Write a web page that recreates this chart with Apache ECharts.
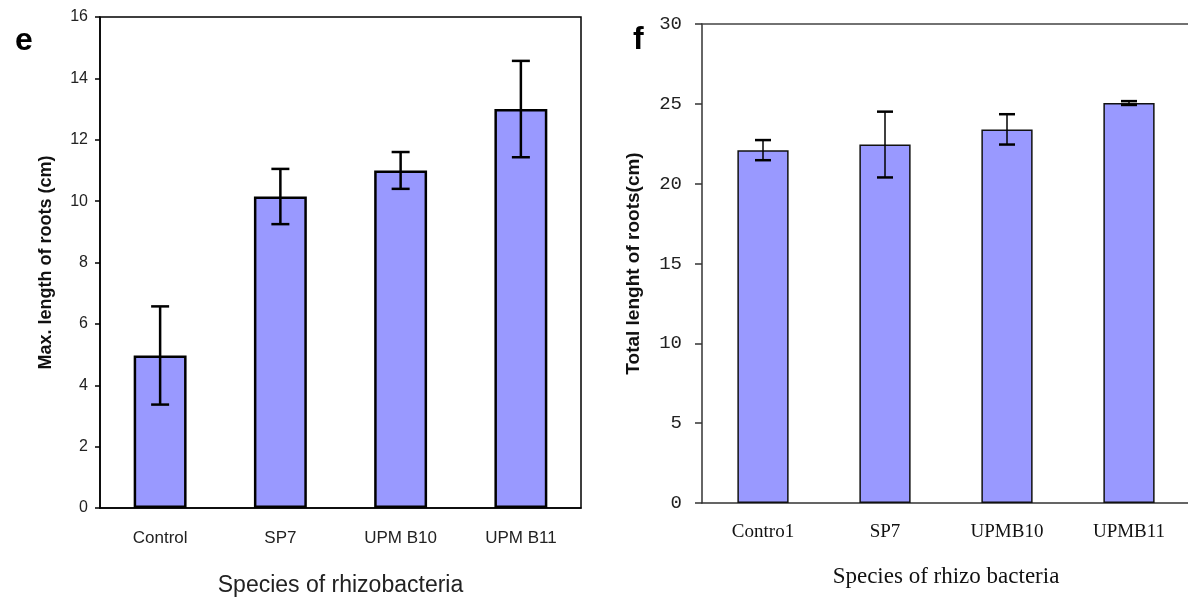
<!DOCTYPE html>
<html>
<head>
<meta charset="utf-8">
<script src="https://cdn.jsdelivr.net/npm/echarts@6/dist/echarts.min.js"></script>
<style>
  html, body { margin: 0; padding: 0; background: #fff; }
  #chart { width: 1188px; height: 599px; }
</style>
</head>
<body>
<div id="chart"></div>
<script>
// Panel e: maximum root length (cm), mean ± error
const categoriesE = ['Control', 'SP7', 'UPM B10', 'UPM B11'];
const maxLengthMean = [4.97, 10.15, 11.0, 13.0];
const maxLengthErr = [1.6, 0.9, 0.6, 1.57];

// Panel f: total root length (cm), mean ± error
const categoriesF = ['Contro1', 'SP7', 'UPMB10', 'UPMB11'];
const totalLengthMean = [22.1, 22.45, 23.4, 25.05];
const totalLengthErr = [0.63, 2.06, 0.95, 0.12];

const BAR_FILL = '#9999ff';

function errorRows(means, errs) {
  return means.map((m, i) => [i, m - errs[i], m + errs[i]]);
}

// Whisker with caps drawn through the axis scales
function errorRenderer(capHalf, stemWidth, capWidth) {
  return function (params, api) {
    const x = api.value(0);
    const hi = api.coord([x, api.value(2)]);
    const lo = api.coord([x, api.value(1)]);
    const style = { stroke: '#000' };
    return {
      type: 'group',
      children: [
        { type: 'line', shape: { x1: hi[0], y1: hi[1], x2: lo[0], y2: lo[1] },
          style: Object.assign({ lineWidth: stemWidth }, style) },
        { type: 'line', shape: { x1: hi[0] - capHalf, y1: hi[1], x2: hi[0] + capHalf, y2: hi[1] },
          style: Object.assign({ lineWidth: capWidth }, style) },
        { type: 'line', shape: { x1: lo[0] - capHalf, y1: lo[1], x2: lo[0] + capHalf, y2: lo[1] },
          style: Object.assign({ lineWidth: capWidth }, style) }
      ]
    };
  };
}

const chart = echarts.init(document.getElementById('chart'), null, { renderer: 'canvas' });

chart.setOption({
  animation: false,
  backgroundColor: '#ffffff',
  title: [
    { text: 'e', left: 10, top: 20,
      textStyle: { fontFamily: 'Liberation Sans', fontWeight: 'bold', fontSize: 32, color: '#000' } },
    { text: 'f', left: 628, top: 19,
      textStyle: { fontFamily: 'Liberation Sans', fontWeight: 'bold', fontSize: 32, color: '#000' } }
  ],
  grid: [
    { left: 100, top: 17, width: 481, height: 491, show: true, outerBoundsMode: 'none',
      borderColor: '#000', borderWidth: 1.5, backgroundColor: 'transparent' },
    { left: 702, top: 24, width: 488, height: 479, outerBoundsMode: 'none' }
  ],
  xAxis: [
    {
      type: 'category', gridIndex: 0, data: categoriesE,
      name: 'Species of rhizobacteria', nameLocation: 'middle', nameGap: 66,
      nameTextStyle: { fontFamily: 'Liberation Sans', fontSize: 23, color: '#222' },
      axisLine: { lineStyle: { color: '#000', width: 1.5 } },
      axisTick: { length: 6, lineStyle: { color: '#000', width: 1.5 } },
      axisLabel: { margin: 22, fontFamily: 'Liberation Sans', fontSize: 17, color: '#222' }
    },
    {
      type: 'category', gridIndex: 1, data: categoriesF,
      name: 'Species of rhizo bacteria', nameLocation: 'middle', nameGap: 62,
      nameTextStyle: { fontFamily: 'Liberation Serif', fontSize: 23, color: '#111' },
      axisLine: { lineStyle: { color: '#333', width: 1.5 } },
      axisTick: { length: 7, lineStyle: { color: '#333', width: 1.5 } },
      axisLabel: { margin: 20, fontFamily: 'Liberation Serif', fontSize: 19, color: '#111' }
    },
    {
      // top edge line of panel f
      type: 'category', gridIndex: 1, position: 'top', data: categoriesF,
      axisLine: { lineStyle: { color: '#444', width: 1.5 } },
      axisTick: { show: false }, axisLabel: { show: false }
    }
  ],
  yAxis: [
    {
      type: 'value', gridIndex: 0, min: 0, max: 16, interval: 2,
      name: 'Max. length of roots (cm)', nameLocation: 'middle', nameGap: 45,
      nameTextStyle: { fontFamily: 'Liberation Sans', fontWeight: 'bold', fontSize: 18, color: '#111' },
      axisLine: { show: true, lineStyle: { color: '#000', width: 1.5 } },
      axisTick: { show: true, length: 5, lineStyle: { color: '#000', width: 1.5 } },
      axisLabel: { margin: 12, fontFamily: 'Liberation Sans', fontSize: 16, color: '#222' },
      splitLine: { show: false }
    },
    {
      type: 'value', gridIndex: 1, min: 0, max: 30, interval: 5,
      name: 'Total lenght of roots(cm)', nameLocation: 'middle', nameGap: 59,
      nameTextStyle: { fontFamily: 'Liberation Sans', fontWeight: 'bold', fontSize: 19, color: '#111' },
      axisLine: { show: true, lineStyle: { color: '#333', width: 1.5 } },
      axisTick: { show: true, length: 7, lineStyle: { color: '#333', width: 1.5 } },
      axisLabel: { margin: 20, fontFamily: 'Liberation Mono', fontSize: 19, color: '#222' },
      splitLine: { show: false }
    }
  ],
  series: [
    {
      type: 'bar', xAxisIndex: 0, yAxisIndex: 0, data: maxLengthMean, barWidth: '44%',
      itemStyle: { color: BAR_FILL, borderColor: '#000', borderWidth: 2.5 }
    },
    {
      type: 'custom', xAxisIndex: 0, yAxisIndex: 0, z: 5,
      renderItem: errorRenderer(9, 2.5, 2.5),
      encode: { x: 0, y: [1, 2] },
      data: errorRows(maxLengthMean, maxLengthErr)
    },
    {
      type: 'bar', xAxisIndex: 1, yAxisIndex: 1, data: totalLengthMean, barWidth: '42%',
      itemStyle: { color: BAR_FILL, borderColor: '#111', borderWidth: 1.5 }
    },
    {
      type: 'custom', xAxisIndex: 1, yAxisIndex: 1, z: 5,
      renderItem: errorRenderer(8, 1.5, 2.5),
      encode: { x: 0, y: [1, 2] },
      data: errorRows(totalLengthMean, totalLengthErr)
    }
  ]
});
</script>
</body>
</html>
